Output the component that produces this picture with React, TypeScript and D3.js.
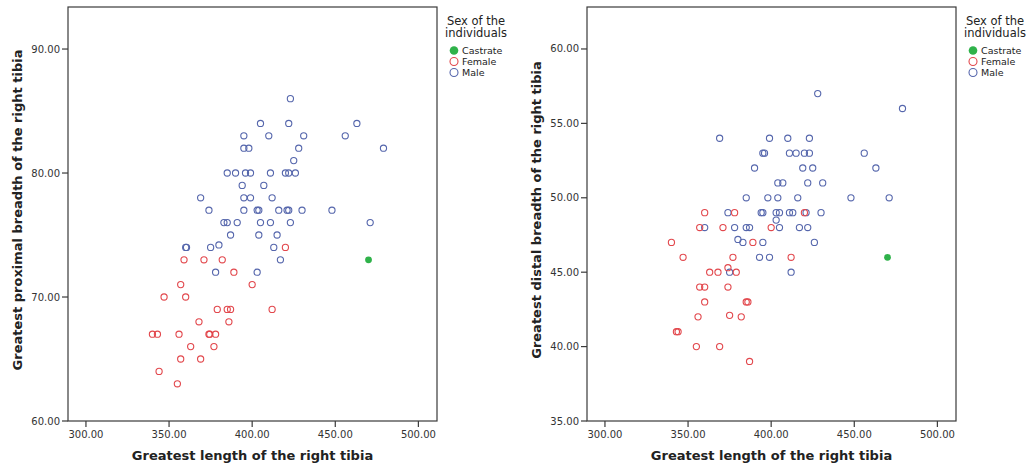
import React from "react";
import * as d3 from "d3";

// Greatest length vs. proximal breadth of the right tibia: [length, breadth]
const maleProximal: [number, number][] = [
  [423, 86],
  [405, 84], [422, 84], [463, 84],
  [395, 83], [410, 83], [431, 83], [456, 83],
  [395, 82], [398, 82], [428, 82], [479, 82],
  [425, 81],
  [385, 80], [390, 80], [396, 80], [399, 80], [411, 80], [420, 80], [422, 80], [426, 80],
  [394, 79], [407, 79],
  [369, 78], [395, 78], [399, 78], [412, 78],
  [374, 77], [395, 77], [403, 77], [404, 77], [416, 77], [421, 77], [422, 77], [430, 77], [448, 77],
  [383, 76], [385, 76], [391, 76], [405, 76], [411, 76], [423, 76], [471, 76],
  [387, 75], [404, 75], [415, 75],
  [360, 74], [360.5, 74], [375, 74], [380, 74.2], [413, 74],
  [417, 73],
  [378, 72], [403, 72],
];
const femaleProximal: [number, number][] = [
  [420, 74],
  [359, 73], [371, 73], [382, 73],
  [389, 72],
  [357, 71], [400, 71],
  [347, 70], [360, 70],
  [379, 69], [385, 69], [387, 69], [412, 69],
  [368, 68], [386, 68],
  [340, 67], [343, 67], [356, 67], [374, 67], [374.5, 67], [378, 67],
  [363, 66], [377, 66],
  [357, 65], [369, 65],
  [344, 64],
  [355, 63],
];
const castrateProximal: [number, number][] = [[470, 73]];

// Greatest length vs. distal breadth of the right tibia: [length, breadth]
const maleDistal: [number, number][] = [
  [428, 57],
  [479, 56],
  [369, 54], [399, 54], [410, 54], [423, 54],
  [395, 53], [396, 53], [411, 53], [415, 53], [420, 53], [423, 53], [456, 53],
  [390, 52], [419, 52], [425, 52], [463, 52],
  [404, 51], [407, 51], [422, 51], [431, 51],
  [385, 50], [398, 50], [404, 50], [416, 50], [448, 50], [471, 50],
  [374, 49], [394, 49], [395, 49], [403, 49], [405, 49], [411, 49], [413, 49], [421, 49], [430, 49],
  [403, 48.5],
  [360, 48], [378, 48], [385, 48], [387, 48], [405, 48], [417, 48], [422, 48],
  [380, 47.2], [383, 47], [395, 47], [426, 47],
  [393, 46], [399, 46],
  [375, 45], [412, 45],
];
const femaleDistal: [number, number][] = [
  [360, 49], [378, 49], [420, 49],
  [357, 48], [371, 48], [400, 48],
  [340, 47], [389, 47],
  [347, 46], [377, 46], [412, 46],
  [363, 45], [368, 45], [374, 45.3], [379, 45],
  [357, 44], [360, 44], [374, 44],
  [360, 43], [385, 43], [386, 43],
  [356, 42], [375, 42.1], [382, 42],
  [343, 41], [344, 41],
  [355, 40], [369, 40],
  [387, 39],
];
const castrateDistal: [number, number][] = [[470, 46]];

const xTicks = [300, 350, 400, 450, 500];
const proximalTicks = [60, 70, 80, 90];
const distalTicks = [35, 40, 45, 50, 55, 60];

const legendTitle = ["Sex of the", "individuals"];
const groups = ["Castrate", "Female", "Male"];

const COLORS: Record<string, string> = {
  Castrate: "#2fb24a",
  Female: "#e2474c",
  Male: "#5566ac",
};

const FONT = "'DejaVu Sans', Verdana, sans-serif";

type PanelProps = {
  x0: number;
  yDomain: [number, number];
  yTicks: number[];
  yTitle: string;
  male: [number, number][];
  female: [number, number][];
  castrate: [number, number][];
};

const TOP = 7;
const BOTTOM = 421;
const WIDTH = 369;

function Panel({ x0, yDomain, yTicks, yTitle, male, female, castrate }: PanelProps) {
  const x = d3.scaleLinear().domain([289.2, 511.2]).range([x0, x0 + WIDTH]);
  const y = d3.scaleLinear().domain(yDomain).range([BOTTOM, TOP]);
  const fmt = d3.format(".2f");
  const xMid = x0 + WIDTH / 2;
  const lx = x0 + WIDTH;

  const openMarks = (data: [number, number][], color: string) =>
    data.map(([a, b], i) => (
      <circle
        key={i}
        cx={x(a)}
        cy={y(b)}
        r={3.1}
        fill="none"
        stroke={color}
        strokeWidth={1.1}
      />
    ));

  return (
    <g>
      {/* plot frame */}
      <rect
        x={x0}
        y={TOP}
        width={WIDTH}
        height={BOTTOM - TOP}
        fill="none"
        stroke="#3a3a3a"
        strokeWidth={1.2}
      />
      {/* y axis */}
      {yTicks.map((t) => (
        <g key={t}>
          <line x1={x0 - 6} x2={x0} y1={y(t)} y2={y(t)} stroke="#3a3a3a" strokeWidth={1.2} />
          <text
            x={x0 - 8}
            y={y(t)}
            textAnchor="end"
            dominantBaseline="central"
            fontSize={10}
            fill="#333"
            fontFamily={FONT}
          >
            {fmt(t)}
          </text>
        </g>
      ))}
      {/* x axis */}
      {xTicks.map((t) => (
        <g key={t}>
          <line x1={x(t)} x2={x(t)} y1={BOTTOM} y2={BOTTOM + 6} stroke="#3a3a3a" strokeWidth={1.2} />
          <text
            x={x(t)}
            y={BOTTOM + 13}
            textAnchor="middle"
            dominantBaseline="central"
            fontSize={10}
            fill="#333"
            fontFamily={FONT}
          >
            {fmt(t)}
          </text>
        </g>
      ))}
      <text
        x={xMid}
        y={460}
        textAnchor="middle"
        fontSize={13}
        fontWeight="bold"
        fill="#222"
        fontFamily={FONT}
      >
        Greatest length of the right tibia
      </text>
      <text
        transform={`translate(${x0 - 46},210) rotate(-90)`}
        textAnchor="middle"
        fontSize={13}
        fontWeight="bold"
        fill="#222"
        fontFamily={FONT}
      >
        {yTitle}
      </text>

      {/* points */}
      {openMarks(male, COLORS.Male)}
      {openMarks(female, COLORS.Female)}
      {castrate.map(([a, b], i) => (
        <circle key={i} cx={x(a)} cy={y(b)} r={3.4} fill={COLORS.Castrate} />
      ))}

      {/* legend */}
      {legendTitle.map((line, i) => (
        <text
          key={line}
          x={lx + 39}
          y={25 + i * 12}
          textAnchor="middle"
          fontSize={11.5}
          fill="#222"
          fontFamily={FONT}
        >
          {line}
        </text>
      ))}
      {groups.map((g, i) => {
        const cy = 50.5 + i * 11;
        return (
          <g key={g}>
            {g === "Castrate" ? (
              <circle cx={lx + 17} cy={cy} r={4.3} fill={COLORS[g]} />
            ) : (
              <circle cx={lx + 17} cy={cy} r={4} fill="none" stroke={COLORS[g]} strokeWidth={1.1} />
            )}
            <text
              x={lx + 25}
              y={cy}
              dominantBaseline="central"
              fontSize={9.5}
              fill="#222"
              fontFamily={FONT}
            >
              {g}
            </text>
          </g>
        );
      })}
    </g>
  );
}

export default function App() {
  return (
    <svg
      width={1030}
      height={466}
      style={{ position: "absolute", left: 0, top: 0, background: "#fff" }}
    >
      <rect width={1030} height={466} fill="#fff" />
      <Panel
        x0={68}
        yDomain={[60, 93.39]}
        yTicks={proximalTicks}
        yTitle="Greatest proximal breadth of the right tibia"
        male={maleProximal}
        female={femaleProximal}
        castrate={castrateProximal}
      />
      <Panel
        x0={587}
        yDomain={[35, 62.82]}
        yTicks={distalTicks}
        yTitle="Greatest distal breadth of the right tibia"
        male={maleDistal}
        female={femaleDistal}
        castrate={castrateDistal}
      />
    </svg>
  );
}
